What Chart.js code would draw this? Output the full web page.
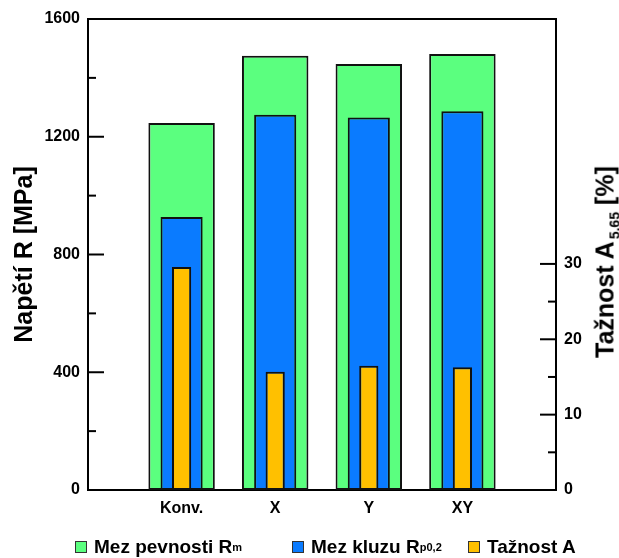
<!DOCTYPE html>
<html>
<head>
<meta charset="utf-8">
<script src="https://cdn.jsdelivr.net/npm/chart.js@4/dist/chart.umd.min.js"></script>
<style>
    html, body { margin: 0; padding: 0; background: #fff; }
    #wrap { position: relative; width: 619px; height: 558px; font-family: "Liberation Sans", Arial, sans-serif; }
    #chart { position: absolute; left: 0; top: 0; }
    .legend-item { position: absolute; top: 536px; display: flex; align-items: center; font-weight: bold; font-size: 19px; color: #000; white-space: nowrap; }
    .legend-item .box { width: 10px; height: 10px; border: 1px solid #333; margin-right: 7px; }
    .legend-item sub { font-size: 11px; vertical-align: -5px; line-height: 0; }
    #right-title { position: absolute; left: 605px; top: 262px; transform: translate(-50%, -50%) rotate(-90deg); font-weight: bold; font-size: 25px; white-space: nowrap; color: #000; }
    #right-title sub { font-size: 14px; vertical-align: -6px; line-height: 0; margin-left: 2px; }
</style>
</head>
<body>
<div id="wrap">
    <canvas id="chart" width="619" height="558"></canvas>
    <div id="right-title">Tažnost A<sub>5,65</sub> [%]</div>
    <div class="legend-item" style="left:75px"><span class="box" style="background:#5BFF7F"></span>Mez pevnosti R<sub>m</sub></div>
    <div class="legend-item" style="left:292px"><span class="box" style="background:#0A7BFF"></span>Mez kluzu R<sub>p0,2</sub></div>
    <div class="legend-item" style="left:468px"><span class="box" style="background:#FFC000"></span>Tažnost A</div>
</div>
<script>
// hodnoty
const categories = ['Konv.', 'X', 'Y', 'XY'];
const mezPevnosti = [1247, 1475, 1447, 1481];   // MPa
const mezKluzu = [927, 1275, 1265, 1287];        // MPa
const taznost = [29.6, 15.7, 16.5, 16.3];        // %

const leftTicks = [0, 400, 800, 1200, 1600];
const rightTicks = [0, 10, 20, 30];

const FONT = "'Liberation Sans', Arial, sans-serif";

// prazdne pozice na krajich, aby kategorie sedely na 1..4
const labels = ['', ...categories, ''];
const pad = arr => [null, ...arr, null];

// ramecek + dovnitr smerujici ticky
const frameTicks = {
    id: 'frameTicks',
    afterDraw(chart) {
        const { ctx, chartArea: a, scales } = chart;
        ctx.save();
        ctx.strokeStyle = '#000';
        ctx.lineWidth = 2;
        ctx.beginPath();
        ctx.moveTo(a.left, a.top);
        ctx.lineTo(a.right, a.top);
        ctx.stroke();

        scales.y.ticks.forEach(t => {
            if (t.value <= 0 || t.value >= 1600) return;
            const py = scales.y.getPixelForValue(t.value);
            const len = t.value % 400 === 0 ? 16 : 8;
            ctx.beginPath();
            ctx.moveTo(a.left, py);
            ctx.lineTo(a.left + len, py);
            ctx.stroke();
        });
        scales.y1.ticks.forEach(t => {
            if (t.value <= 0 || t.value > 30) return;
            const py = scales.y1.getPixelForValue(t.value);
            const len = t.value % 10 === 0 ? 16 : 8;
            ctx.beginPath();
            ctx.moveTo(a.right, py);
            ctx.lineTo(a.right - len, py);
            ctx.stroke();
        });
        ctx.restore();
    }
};

new Chart(document.getElementById('chart'), {
    type: 'bar',
    data: {
        labels,
        datasets: [
            {
                label: 'Mez pevnosti Rm',
                data: pad(mezPevnosti),
                backgroundColor: '#5BFF7F',
                borderColor: '#111',
                borderWidth: 2,
                borderSkipped: false,
                barPercentage: 0.71,
                categoryPercentage: 1,
                grouped: false,
                order: 3,
                yAxisID: 'y'
            },
            {
                label: 'Mez kluzu Rp0,2',
                data: pad(mezKluzu),
                backgroundColor: '#0A7BFF',
                borderColor: '#111',
                borderWidth: 2,
                borderSkipped: false,
                barPercentage: 0.45,
                categoryPercentage: 1,
                grouped: false,
                order: 2,
                yAxisID: 'y'
            },
            {
                label: 'Tažnost A',
                data: pad(taznost),
                backgroundColor: '#FFC000',
                borderColor: '#111',
                borderWidth: 2,
                borderSkipped: false,
                barPercentage: 0.205,
                categoryPercentage: 1,
                grouped: false,
                order: 1,
                yAxisID: 'y1'
            }
        ]
    },
    options: {
        responsive: false,
        animation: false,
        devicePixelRatio: 1,
        layout: { padding: { top: 19, right: 0, bottom: 30, left: 0 } },
        plugins: {
            legend: { display: false },
            tooltip: { enabled: false }
        },
        scales: {
            x: {
                type: 'category',
                offset: false,
                grid: { display: false, drawTicks: false },
                border: { display: true, color: '#000', width: 2 },
                ticks: {
                    color: '#000',
                    font: { family: FONT, size: 16, weight: 'bold' },
                    padding: 9,
                    autoSkip: false,
                    maxRotation: 0
                },
                afterFit: s => { s.height = 38; }
            },
            y: {
                position: 'left',
                min: 0,
                max: 1600,
                grid: { display: false, drawTicks: false },
                border: { display: true, color: '#000', width: 2 },
                ticks: {
                    stepSize: 200,
                    autoSkip: false,
                    color: '#000',
                    padding: 8,
                    font: { family: FONT, size: 16, weight: 'bold' },
                    callback: v => leftTicks.includes(v) ? v : ''
                },
                title: {
                    display: true,
                    text: 'Napětí R [MPa]',
                    color: '#000',
                    font: { family: FONT, size: 25, weight: 'bold' },
                    padding: { top: 10, bottom: 0 }
                },
                afterFit: s => { s.width = 88; }
            },
            y1: {
                position: 'right',
                min: 0,
                max: 62.5,
                grid: { display: false, drawTicks: false },
                border: { display: true, color: '#000', width: 2 },
                ticks: {
                    stepSize: 5,
                    autoSkip: false,
                    color: '#000',
                    padding: 8,
                    font: { family: FONT, size: 16, weight: 'bold' },
                    callback: v => rightTicks.includes(v) ? v : ''
                },
                afterFit: s => { s.width = 63; }
            }
        }
    },
    plugins: [frameTicks]
});
</script>
</body>
</html>
